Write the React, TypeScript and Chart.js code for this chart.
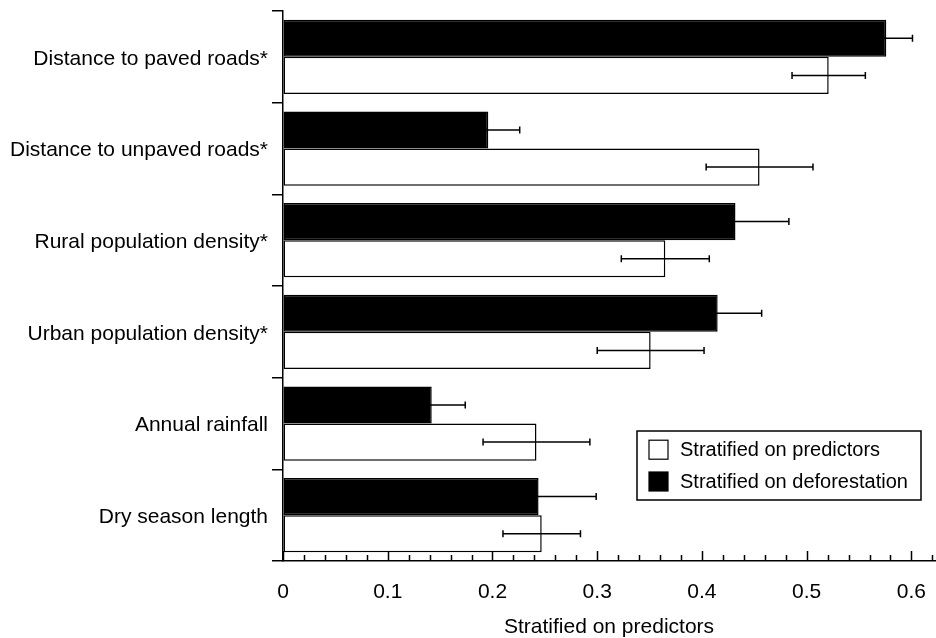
import React, { useEffect, useRef } from 'react';
import { Chart, registerables } from 'chart.js';

Chart.register(...registerables);

const categories = [
  'Distance to paved roads*',
  'Distance to unpaved roads*',
  'Rural population density*',
  'Urban population density*',
  'Annual rainfall',
  'Dry season length',
];

const deforestationValues = [0.576, 0.196, 0.432, 0.415, 0.142, 0.244];
const deforestationErrors = [0.025, 0.030, 0.051, 0.042, 0.032, 0.055];

const predictorValues = [0.521, 0.455, 0.365, 0.351, 0.242, 0.247];
const predictorErrors = [0.035, 0.051, 0.042, 0.051, 0.051, 0.037];

const xMajorTicks = [0, 0.1, 0.2, 0.3, 0.4, 0.5, 0.6];
const xMinorStep = 0.02;
const xMax = 0.6225;

const xTitle = 'Stratified on predictors';
const legendLabels = ['Stratified on predictors', 'Stratified on deforestation'];

const FONT = '"Liberation Sans", Arial, Helvetica, sans-serif';

const errorBarPlugin = {
  id: 'errorBars',
  afterDatasetsDraw(chart: any) {
    const { ctx } = chart;
    const xs = chart.scales.x;
    const errorSets = [deforestationErrors, predictorErrors];
    chart.data.datasets.forEach((ds: any, di: number) => {
      const meta = chart.getDatasetMeta(di);
      const errs = errorSets[di];
      meta.data.forEach((bar: any, i: number) => {
        const v = ds.data[i] as number;
        const e = errs[i];
        const x1 = xs.getPixelForValue(v - e);
        const x2 = xs.getPixelForValue(v + e);
        const y = bar.y;
        ctx.save();
        ctx.strokeStyle = '#000';
        ctx.lineWidth = 1.5;
        ctx.beginPath();
        ctx.moveTo(x1, y);
        ctx.lineTo(x2, y);
        ctx.moveTo(x1, y - 3.5);
        ctx.lineTo(x1, y + 3.5);
        ctx.moveTo(x2, y - 3.5);
        ctx.lineTo(x2, y + 3.5);
        ctx.stroke();
        ctx.restore();
      });
    });
  },
};

const axisDecorPlugin = {
  id: 'axisDecor',
  afterDraw(chart: any) {
    const { ctx, chartArea } = chart;
    const xs = chart.scales.x;
    const yb = chartArea.bottom;
    ctx.save();
    ctx.strokeStyle = '#000';
    ctx.lineWidth = 1.5;
    ctx.beginPath();
    // inward major and minor ticks on the x axis
    const n = Math.floor(xMax / xMinorStep + 1e-6);
    for (let k = 0; k <= n; k++) {
      const v = k * xMinorStep;
      const px = Math.round(xs.getPixelForValue(v)) + 0.5;
      const isMajor = Math.abs(v * 10 - Math.round(v * 10)) < 1e-6;
      const len = isMajor ? 10 : 6;
      ctx.moveTo(px, yb);
      ctx.lineTo(px, yb - len);
    }
    ctx.stroke();

    // legend box inside the plot
    const boxLeft = 637;
    const boxTop = 431;
    const boxW = 284;
    const boxH = 69;
    ctx.lineWidth = 1.5;
    ctx.fillStyle = '#fff';
    ctx.fillRect(boxLeft, boxTop, boxW, boxH);
    ctx.strokeRect(boxLeft, boxTop, boxW, boxH);
    const fills = ['#fff', '#000'];
    const rows = [449.7, 481.5];
    ctx.font = `20px ${FONT}`;
    ctx.textBaseline = 'middle';
    ctx.textAlign = 'left';
    legendLabels.forEach((lab, i) => {
      const cy = rows[i];
      ctx.fillStyle = fills[i];
      ctx.fillRect(649, cy - 9.5, 19, 19);
      ctx.strokeStyle = '#000';
      ctx.lineWidth = 1.2;
      ctx.strokeRect(649, cy - 9.5, 19, 19);
      ctx.fillStyle = '#000';
      ctx.fillText(lab, 680, cy + 1);
    });
    ctx.restore();
  },
};

function App() {
  const canvasRef = useRef<HTMLCanvasElement | null>(null);

  useEffect(() => {
    document.body.style.margin = '0';
    const canvas = canvasRef.current;
    if (!canvas) return;
    const chart = new Chart(canvas, {
      type: 'bar',
      data: {
        labels: categories,
        datasets: [
          {
            label: legendLabels[1],
            data: deforestationValues,
            backgroundColor: '#000',
            borderColor: '#000',
            borderWidth: 1.5,
            borderSkipped: false,
            categoryPercentage: 0.81,
            barPercentage: 1.0,
          },
          {
            label: legendLabels[0],
            data: predictorValues,
            backgroundColor: '#fff',
            borderColor: '#000',
            borderWidth: 1.5,
            borderSkipped: false,
            categoryPercentage: 0.81,
            barPercentage: 1.0,
          },
        ],
      },
      options: {
        indexAxis: 'y',
        animation: false,
        responsive: false,
        devicePixelRatio: 1,
        layout: { padding: { top: 11, right: 1, left: 0, bottom: 0 } },
        plugins: {
          legend: { display: false },
          tooltip: { enabled: false },
        },
        scales: {
          x: {
            type: 'linear',
            min: 0,
            max: xMax,
            afterBuildTicks: (scale: any) => {
              scale.ticks = xMajorTicks.map((v) => ({ value: v }));
            },
            afterFit: (scale: any) => {
              scale.height = 77;
            },
            grid: {
              display: true,
              drawOnChartArea: false,
              drawTicks: true,
              tickLength: 19,
              color: 'rgba(0,0,0,0)',
            },
            border: { display: true, color: '#000', width: 1.5 },
            ticks: {
              color: '#000',
              padding: 0,
              font: { family: FONT, size: 21 },
              maxRotation: 0,
              autoSkip: false,
              callback: (v: any) => String(v),
            },
            title: {
              display: true,
              text: xTitle,
              color: '#000',
              font: { family: FONT, size: 21, lineHeight: 1 },
              padding: { top: 0, bottom: 0 },
            },
          },
          y: {
            type: 'category',
            offset: true,
            afterFit: (scale: any) => {
              scale.width = 283;
            },
            grid: {
              display: true,
              offset: true,
              drawOnChartArea: false,
              drawTicks: true,
              tickLength: 11,
              color: '#000',
              lineWidth: 1.5,
            },
            border: { display: true, color: '#000', width: 1.5 },
            ticks: {
              color: '#000',
              padding: 4,
              labelOffset: 2,
              font: { family: FONT, size: 21, lineHeight: 0.6 },
              autoSkip: false,
            },
          },
        },
      } as any,
      plugins: [errorBarPlugin, axisDecorPlugin],
    });
    return () => chart.destroy();
  }, []);

  return (
    <div style={{ position: 'absolute', left: 0, top: 0, width: 936, height: 638, background: '#fff' }}>
      <canvas ref={canvasRef} width={936} height={638} />
    </div>
  );
}

export default App;
